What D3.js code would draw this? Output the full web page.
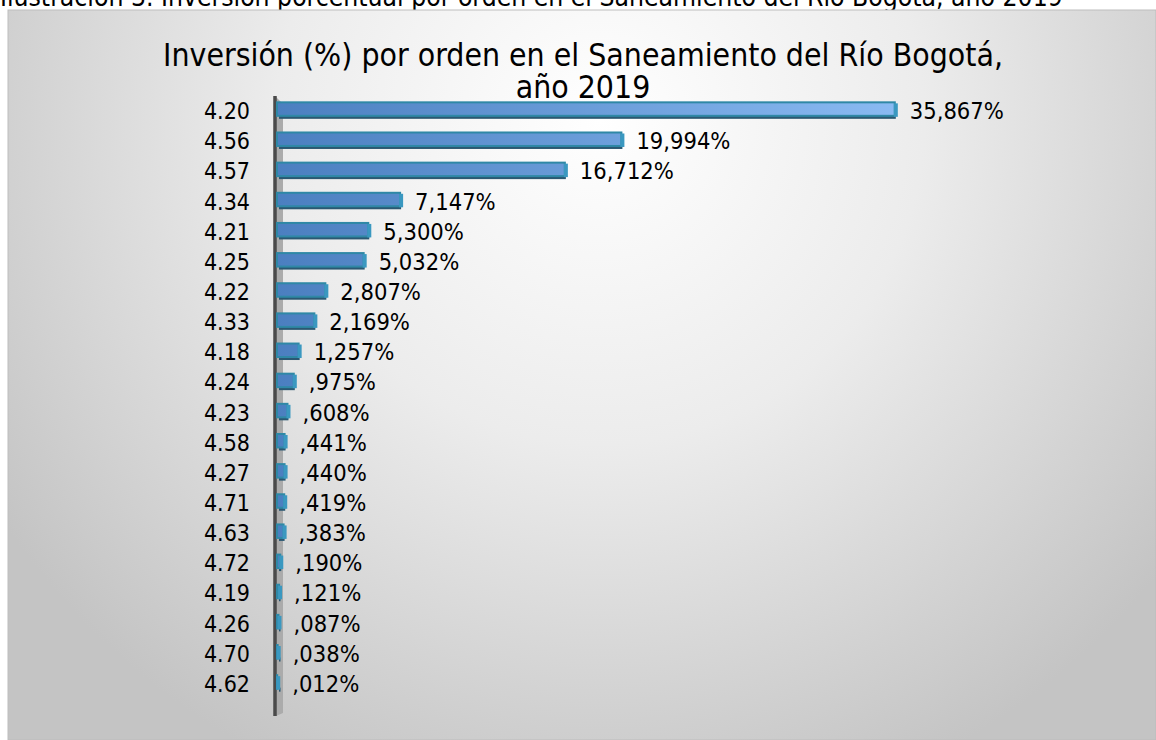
<!DOCTYPE html>
<html>
<head>
<meta charset="utf-8">
<script src="https://cdn.jsdelivr.net/npm/d3@7"></script>
<style>
  html, body { margin: 0; padding: 0; background: #ffffff; overflow: hidden; }
  svg { display: block; }
</style>
</head>
<body>
<div id="container"></div>
<script>
const w = 1156,
    h = 740;

// data
const categories = ["4.20", "4.56", "4.57", "4.34", "4.21", "4.25", "4.22", "4.33", "4.18", "4.24",
    "4.23", "4.58", "4.27", "4.71", "4.63", "4.72", "4.19", "4.26", "4.70", "4.62"];
const values = [35.867, 19.994, 16.712, 7.147, 5.300, 5.032, 2.807, 2.169, 1.257, 0.975,
    0.608, 0.441, 0.440, 0.419, 0.383, 0.190, 0.121, 0.087, 0.038, 0.012];
const captionText = "Ilustración 3. Inversión porcentual por orden en el Saneamiento del Río Bogotá, año 2019";
const titleLines = ["Inversión (%) por orden en el Saneamiento del Río Bogotá,", "año 2019"];

const rows = categories.map((c, i) => ({cat: c, val: values[i]}));
const font = "'DejaVu Sans Condensed', 'DejaVu Sans', sans-serif";

var svg = d3.select("#container")
    .append("svg")
    .attr("width", w)
    .attr("height", h)
    .attr("viewBox", "0 0 " + w + " " + h);

var defs = svg.append("defs");

// background of chart area
var bg = defs.append("radialGradient")
    .attr("id", "bgGrad")
    .attr("gradientUnits", "userSpaceOnUse")
    .attr("cx", 600).attr("cy", 120).attr("r", 720);
bg.append("stop").attr("offset", "0").attr("stop-color", "#ffffff");
bg.append("stop").attr("offset", "0.45").attr("stop-color", "#ececec");
bg.append("stop").attr("offset", "1").attr("stop-color", "#c4c4c4");

var x = d3.scaleLinear().domain([0, 40]).range([277, 966]);
var y = d3.scaleBand().domain(categories).range([96, 699]).paddingInner(0.42).paddingOuter(0.21);

var barGrad = defs.append("linearGradient")
    .attr("id", "barGrad")
    .attr("gradientUnits", "userSpaceOnUse")
    .attr("x1", x(0)).attr("x2", x(36)).attr("y1", 0).attr("y2", 0);
barGrad.append("stop").attr("offset", "0").attr("stop-color", "#4b7fc0");
barGrad.append("stop").attr("offset", "1").attr("stop-color", "#8abaf2");

// caption above the chart (its top is cut by the page edge, as in the original)
svg.append("text")
    .attr("x", 0)
    .attr("y", 6)
    .style("font-family", font)
    .style("font-size", "26.3px")
    .style("fill", "#000")
    .text(captionText);

svg.append("rect")
    .attr("x", 8).attr("y", 10)
    .attr("width", w - 8).attr("height", h - 10)
    .style("fill", "url(#bgGrad)")
    .style("stroke", "#bdbdbd")
    .style("stroke-width", 1);

// title
svg.append("g").selectAll("text")
    .data(titleLines)
    .enter().append("text")
    .attr("x", 583)
    .attr("y", (d, i) => 66 + i * 32)
    .attr("text-anchor", "middle")
    .style("font-family", font)
    .style("font-size", "31.7px")
    .style("fill", "#000")
    .text(d => d);

// 3D wall next to the axis
var yTop = y.range()[0], yBottom = y.range()[1];
svg.append("polygon")
    .attr("points", [[x(0) - 1, yTop + 1], [x(0) + 6, yTop + 8], [x(0) + 6, yBottom + 14], [x(0) - 1, yBottom + 17]].join(" "))
    .style("fill", "#ababab");
svg.append("line")
    .attr("x1", x(0) - 2).attr("x2", x(0) - 2)
    .attr("y1", yTop).attr("y2", yBottom + 17)
    .style("stroke", "#4a4a4a")
    .style("stroke-width", 3.5);

// bars
var bars = svg.append("g").selectAll("g")
    .data(rows)
    .enter().append("g");
var face = y.bandwidth() - 4;

bars.append("rect") // dark bottom edge
    .attr("x", x(0) + 2)
    .attr("y", d => y(d.cat) + face - 1)
    .attr("width", d => Math.max(x(d.val) - x(0) - 1, 1.5))
    .attr("height", 4)
    .style("fill", "#2b5872");

bars.append("rect")
    .attr("x", x(0))
    .attr("y", d => y(d.cat))
    .attr("width", d => x(d.val) - x(0))
    .attr("height", face)
    .style("fill", "url(#barGrad)")
    .style("stroke", "#2f88a6")
    .style("stroke-width", 2);

bars.append("rect") // end face of the 3D bar
    .attr("x", d => x(d.val) - 1)
    .attr("y", d => y(d.cat) + 1)
    .attr("width", 4)
    .attr("height", face)
    .style("fill", "#3a98c0");

// value labels
const fmt = v => d3.format(".3f")(v).replace(/^0/, "").replace(".", ",") + "%";
bars.append("text")
    .attr("x", d => x(d.val) + 15)
    .attr("y", d => y(d.cat) + y.bandwidth() / 2 + 8)
    .style("font-family", font)
    .style("font-size", "23.5px")
    .style("fill", "#000")
    .text(d => fmt(d.val));

// category labels
svg.append("g").selectAll("text")
    .data(categories)
    .enter().append("text")
    .attr("x", 250)
    .attr("y", d => y(d) + y.bandwidth() / 2 + 8)
    .attr("text-anchor", "end")
    .style("font-family", font)
    .style("font-size", "23px")
    .style("fill", "#000")
    .text(d => d);
</script>
</body>
</html>
